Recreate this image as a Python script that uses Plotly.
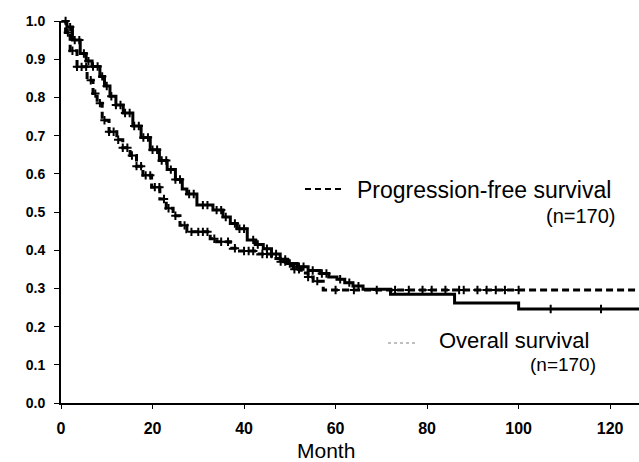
import numpy as np
import plotly.graph_objects as go

# ---------------- data ----------------
os_time = [0, 1.3, 2.5, 4.2, 5.5, 6.8, 8.5, 9.5, 10.7, 12, 13.6, 15.7, 17.5, 19.5, 21.5,
           23.2, 25, 26.5, 27.5, 29.7, 33.2, 35.4, 37, 38.5, 40.7, 42.5, 44.2, 46, 47.9,
           49.5, 51.6, 54, 56.6, 58.5, 60.3, 62, 63.8, 66, 72, 86, 100, 126.3]
os_surv = [1.0, 0.984, 0.95, 0.915, 0.895, 0.881, 0.855, 0.83, 0.803, 0.78, 0.759, 0.725,
           0.695, 0.663, 0.635, 0.611, 0.585, 0.56, 0.547, 0.518, 0.505, 0.487, 0.47, 0.456,
           0.427, 0.415, 0.404, 0.39, 0.376, 0.365, 0.357, 0.347, 0.339, 0.33, 0.324, 0.315,
           0.306, 0.298, 0.285, 0.262, 0.246, 0.246]

pfs_time = [0, 1, 2, 3.5, 5.7, 7, 7.9, 9, 10.5, 12.2, 13.5, 15.1, 16.5, 17.9, 19.8, 21.6,
            23, 24.5, 26, 27.5, 32.6, 34, 37, 39, 43, 46, 47.9, 49.5, 50.7, 52.5, 54, 55.1,
            57.3, 126.3]
pfs_surv = [1.0, 0.97, 0.922, 0.88, 0.845, 0.81, 0.785, 0.74, 0.71, 0.689, 0.668, 0.648,
            0.62, 0.596, 0.565, 0.534, 0.51, 0.49, 0.465, 0.448, 0.43, 0.422, 0.405, 0.398,
            0.39, 0.378, 0.37, 0.36, 0.35, 0.34, 0.33, 0.319, 0.296, 0.296]

os_censor = [1, 2, 3, 4, 5, 6, 7, 8, 9, 10, 11, 12, 13, 14, 15, 16, 17, 18, 19, 20, 21, 22,
             23, 24, 25, 26, 28, 29, 31, 32, 34, 35, 36, 38, 39, 40, 42, 43, 45, 46, 47, 49,
             50, 52, 53, 55, 57, 58, 61, 63, 65, 107, 118]
pfs_censor = [1.5, 2.5, 3.5, 4.5, 5.5, 6.5, 7.5, 8.5, 9.5, 10.5, 11.5, 12.5, 13.5, 14.5,
              15.5, 16.5, 17.5, 18.5, 19.5, 20.5, 21.5, 22.5, 23.5, 25, 27, 28.5, 30, 31,
              32, 33.5, 35, 36.5, 38, 40, 41, 42, 44, 45, 48, 49, 51, 52, 54, 56, 60, 64, 69,
              73, 76, 79, 81, 84, 87, 88, 91, 93, 95, 97, 100]

x_ticks = [0, 20, 40, 60, 80, 100, 120]
y_ticks = [0.0, 0.1, 0.2, 0.3, 0.4, 0.5, 0.6, 0.7, 0.8, 0.9, 1.0]

pfs_label = "Progression-free survival"
os_label = "Overall survival"
n_label = "(n=170)"
x_title = "Month"


def step_value(times, surv, t):
    idx = np.searchsorted(np.asarray(times), t, side="right") - 1
    return np.asarray(surv)[idx]


fig = go.Figure()

fig.add_trace(go.Scatter(x=os_time, y=os_surv, mode="lines", line_shape="hv",
                         line=dict(color="black", width=3), cliponaxis=False,
                         showlegend=False))
fig.add_trace(go.Scatter(x=pfs_time, y=pfs_surv, mode="lines", line_shape="hv",
                         line=dict(color="black", width=3, dash="7px,4px"),
                         cliponaxis=False, showlegend=False))

fig.add_trace(go.Scatter(x=os_censor, y=[step_value(os_time, os_surv, t) for t in os_censor],
                         mode="markers", cliponaxis=False, showlegend=False,
                         marker=dict(symbol="cross-thin", size=6,
                                     line=dict(color="black", width=2))))
fig.add_trace(go.Scatter(x=pfs_censor, y=[step_value(pfs_time, pfs_surv, t) for t in pfs_censor],
                         mode="markers", cliponaxis=False, showlegend=False,
                         marker=dict(symbol="cross-thin", size=6,
                                     line=dict(color="black", width=2))))

font_family = "Liberation Sans, Arial, sans-serif"

fig.update_layout(
    width=639, height=462, autosize=False,
    margin=dict(l=61, r=0, t=21, b=59),
    paper_bgcolor="white", plot_bgcolor="white",
    font=dict(family=font_family, color="black"),
    xaxis=dict(range=[0, 126.3], tickvals=x_ticks, ticktext=[str(v) for v in x_ticks],
               showline=True, linewidth=2, linecolor="black", mirror=False,
               ticks="outside", ticklen=4, tickwidth=1, tickcolor="black",
               showgrid=False, zeroline=False, ticklabelstandoff=6,
               tickfont=dict(size=16, weight="bold", family=font_family)),
    yaxis=dict(range=[0, 1.0], tickvals=y_ticks, ticktext=[f"{v:.1f}" for v in y_ticks],
               showline=True, linewidth=2, linecolor="black",
               ticks="outside", ticklen=5, tickwidth=1, tickcolor="black",
               showgrid=False, zeroline=False, ticklabelstandoff=6,
               tickfont=dict(size=14, weight="bold", family=font_family)),
)

# axis title
fig.add_annotation(text=x_title, xref="paper", yref="paper", x=0.4585, y=-0.125,
                   xanchor="center", yanchor="middle", showarrow=False,
                   font=dict(size=21, family=font_family))

# legend: progression-free survival
fig.add_shape(type="line", xref="paper", yref="paper",
              x0=(305 - 61) / 578, x1=(345 - 61) / 578,
              y0=(403 - 189) / 382, y1=(403 - 189) / 382,
              line=dict(color="black", width=2, dash="6px,4px"))
fig.add_annotation(text=pfs_label, xref="paper", yref="paper",
                   x=(355 - 61) / 578, y=(403 - 190) / 382, xanchor="left", yanchor="middle",
                   showarrow=False, font=dict(size=23, family=font_family))
fig.add_annotation(text=n_label, xref="paper", yref="paper",
                   x=(618 - 61) / 578, y=(403 - 216) / 382, xanchor="right", yanchor="middle",
                   showarrow=False, font=dict(size=20, family=font_family))

# legend: overall survival
fig.add_shape(type="line", xref="paper", yref="paper",
              x0=(388 - 61) / 578, x1=(415 - 61) / 578,
              y0=(403 - 343) / 382, y1=(403 - 343) / 382,
              line=dict(color="#aaaaaa", width=1.5, dash="dot"))
fig.add_annotation(text=os_label, xref="paper", yref="paper",
                   x=(437 - 61) / 578, y=(403 - 340) / 382, xanchor="left", yanchor="middle",
                   showarrow=False, font=dict(size=22, family=font_family))
fig.add_annotation(text=n_label, xref="paper", yref="paper",
                   x=(598 - 61) / 578, y=(403 - 364) / 382, xanchor="right", yanchor="middle",
                   showarrow=False, font=dict(size=19, family=font_family))

fig.write_html("out.html")
